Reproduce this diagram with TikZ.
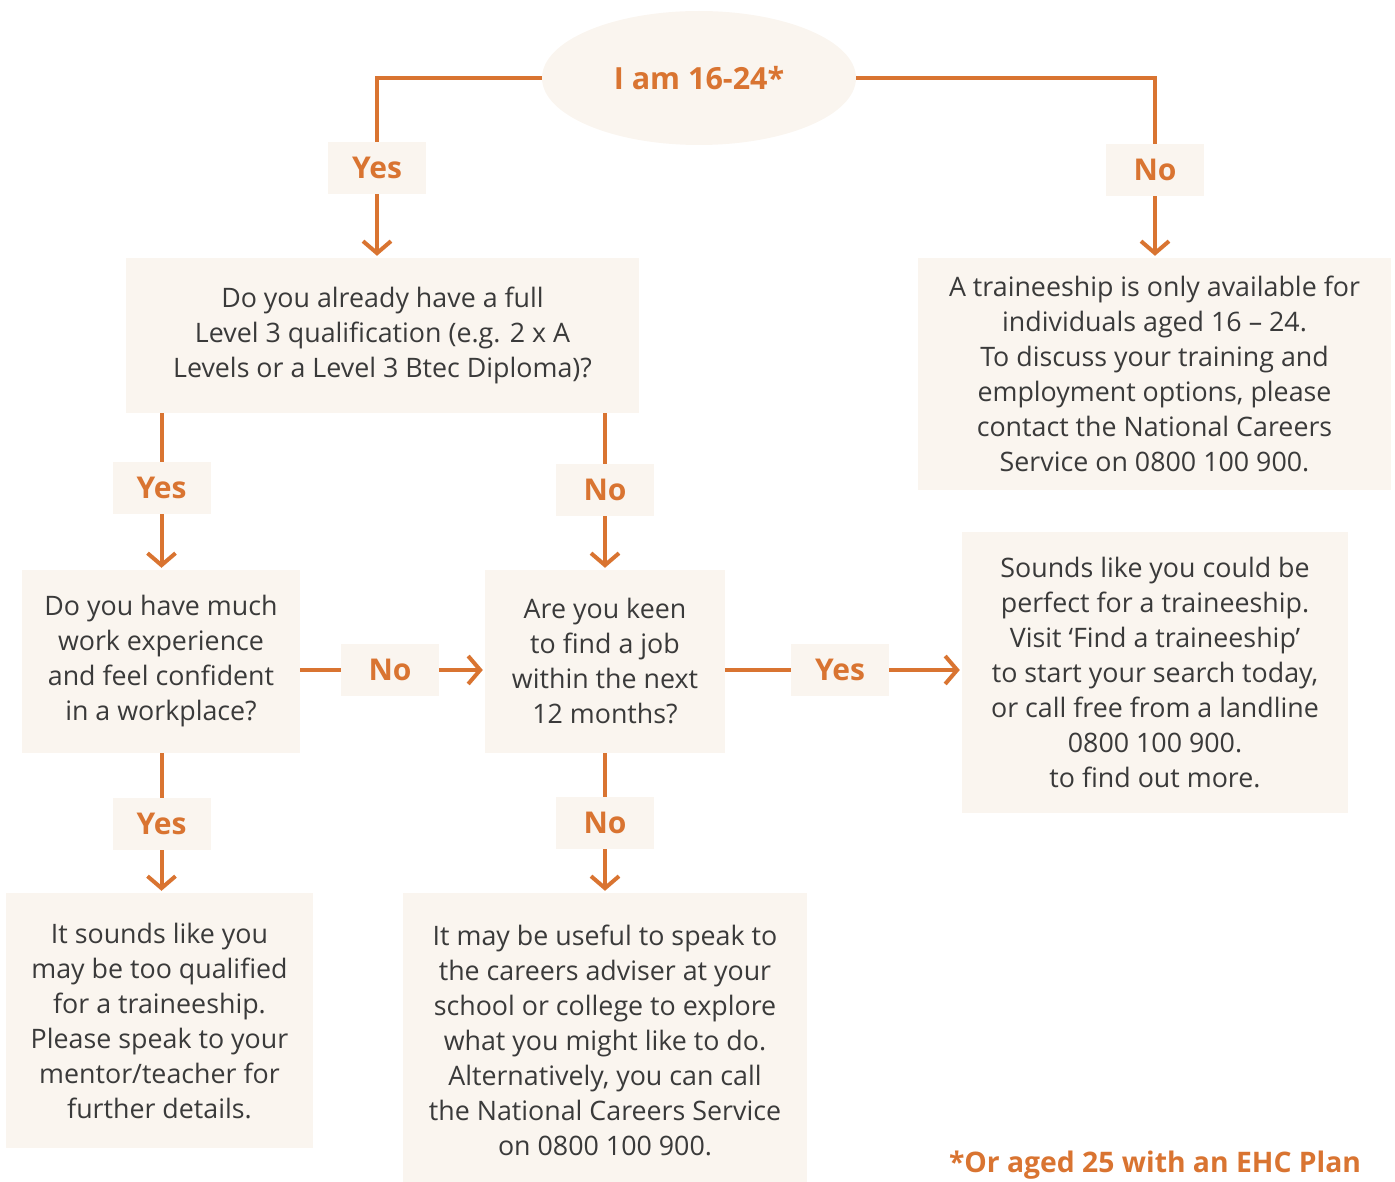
\documentclass[tikz,border=0pt]{standalone}
\usepackage{fontspec}
\setmainfont{Open Sans}
\usetikzlibrary{arrows.meta,shapes.geometric}
\definecolor{org}{HTML}{D97431}
\definecolor{pale}{HTML}{FAF5EF}
\definecolor{txt}{HTML}{3A3A3A}
\tikzset{
  box/.style={fill=pale, draw=none, inner sep=0pt, align=center, text=txt,
    font=\fontsize{26.8}{35}\selectfont},
  lab/.style={fill=pale, draw=none, inner sep=0pt, minimum width=98pt, minimum height=52pt,
    text=org, font=\fontsize{30}{34}\selectfont\bfseries},
  conn/.style={draw=org, line width=4pt},
  arr/.style={draw=org, line width=4pt, -{Straight Barb[length=12pt,width=28pt]}, shorten >=2pt},
}
\begin{document}
\begin{tikzpicture}[x=1pt,y=-1pt]
\useasboundingbox (0,0) rectangle (1395,1182);
% start ellipse
\node[ellipse, fill=pale, minimum width=314pt, minimum height=134pt, inner sep=0pt,
  text=org, font=\fontsize{30.5}{34}\selectfont\bfseries] (start) at (699,78) {I am 16-24*};
% label boxes
\node[lab] (y1) at (377,168) {Yes};
\node[lab] (n1) at (1155,170) {No};
\node[lab] (y2) at (161.5,488) {Yes};
\node[lab] (n2) at (605,490) {No};
\node[lab] (n3) at (390,670) {No};
\node[lab] (y3) at (840,670) {Yes};
\node[lab] (y4) at (161.5,824) {Yes};
\node[lab] (n4) at (605,823) {No};
% content boxes
\node[box, minimum width=513pt, minimum height=155pt] (q1) at (382.5,335.5)
  {Do you already have a full\\Level 3 qualification (e.g. 2 x A\\Levels or a Level 3 Btec Diploma)?};
\node[box, minimum width=473pt, minimum height=232pt] (r1) at (1154.5,374)
  {A traineeship is only available for\\individuals aged 16 -- 24.\\To discuss your training and\\employment options, please\\contact the National Careers\\Service on 0800 100 900.};
\node[box, minimum width=278pt, minimum height=183pt] (qa) at (161,661.5)
  {Do you have much\\work experience\\and feel confident\\in a workplace?};
\node[box, minimum width=240pt, minimum height=183pt] (qb) at (605,661.5)
  {Are you keen\\to find a job\\within the next\\12 months?};
\node[box, minimum width=386pt, minimum height=281pt] (rc) at (1155,672.5)
  {Sounds like you could be\\perfect for a traineeship.\\Visit ‘Find a traineeship’\\to start your search today,\\or call free from a landline\\0800 100 900.\\to find out more.};
\node[box, minimum width=307pt, minimum height=255pt] (rd) at (159.5,1020.5)
  {It sounds like you\\may be too qualified\\for a traineeship.\\Please speak to your\\mentor/teacher for\\further details.};
\node[box, minimum width=404pt, minimum height=295pt] (re) at (605,1040.5)
  {It may be useful to speak to\\the careers adviser at your\\school or college to explore\\what you might like to do.\\Alternatively, you can call\\the National Careers Service\\on 0800 100 900.};
% footnote
\node[anchor=base, text=org, font=\fontsize{28.3}{32}\selectfont\bfseries, inner sep=0pt] (fn) at (1155,1172) {*Or aged 25 with an EHC Plan};
% connectors
\draw[conn] (start.west) -| (y1.north);
\draw[arr] (y1.south) -- (y1.south |- q1.north);
\draw[conn] (start.east) -| (n1.north);
\draw[arr] (n1.south) -- (n1.south |- r1.north);
\draw[conn] (q1.south -| y2.north) -- (y2.north);
\draw[arr] (y2.south) -- (y2.south |- qa.north);
\draw[conn] (q1.south -| n2.north) -- (n2.north);
\draw[arr] (n2.south) -- (n2.south |- qb.north);
\draw[conn] (qa.east |- n3.west) -- (n3.west);
\draw[arr] (n3.east) -- (qb.west |- n3.east);
\draw[conn] (qb.east |- y3.west) -- (y3.west);
\draw[arr] (y3.east) -- (rc.west |- y3.east);
\draw[conn] (qa.south -| y4.north) -- (y4.north);
\draw[arr] (y4.south) -- (y4.south |- rd.north);
\draw[conn] (qb.south -| n4.north) -- (n4.north);
\draw[arr] (n4.south) -- (n4.south |- re.north);
\end{tikzpicture}
\end{document}
